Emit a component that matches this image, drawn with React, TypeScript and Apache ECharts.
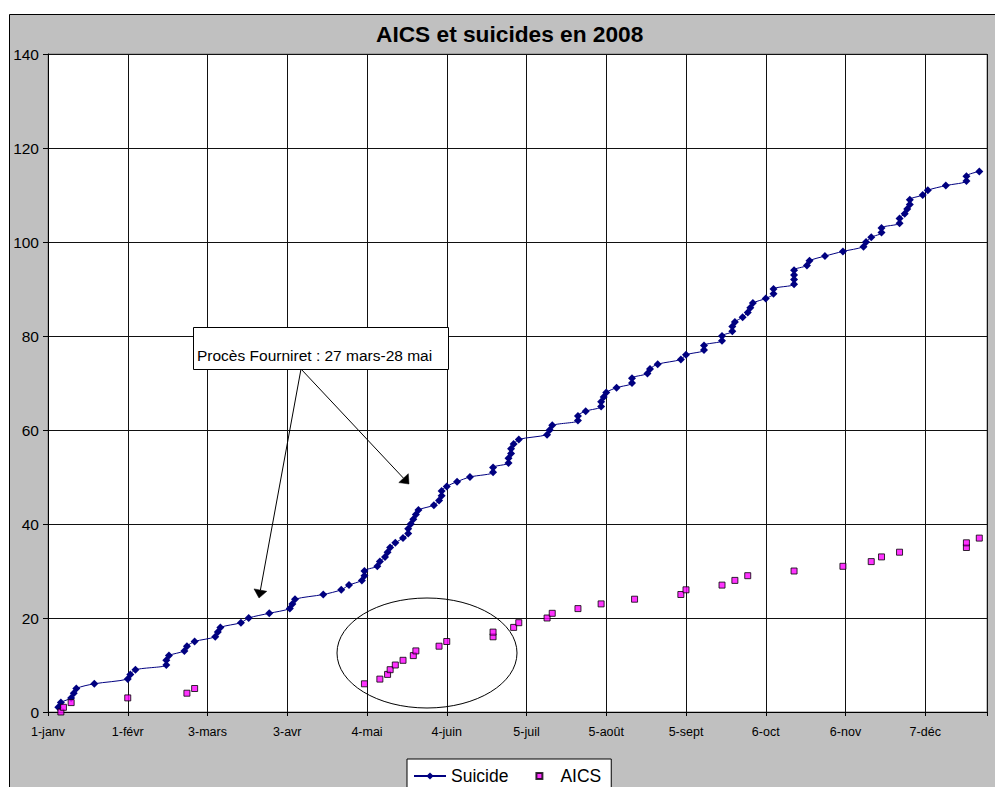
import React, { useEffect, useRef } from 'react';
import * as echarts from 'echarts';

const FONT = '"Liberation Sans", Arial, Helvetica, sans-serif';

// x axis: day number counted from 1 January 2008; ticks every 31 days
const xTickLabels = ['1-janv', '1-févr', '3-mars', '3-avr', '4-mai', '4-juin', '5-juil', '5-août', '5-sept', '6-oct', '6-nov', '7-déc'];

// Suicide (cumulative) : day of year and running total
const suicideDays = [4, 5, 9, 10, 11, 18, 31, 32, 34, 46, 46, 47, 53, 54, 57, 65, 66, 67, 75, 78, 86, 94, 95, 96, 107, 114, 117, 122, 123, 123,
  128, 129, 131, 132, 133, 135, 138, 140, 140, 141, 142, 143, 144, 150, 152, 153, 153, 155, 159, 164, 173, 173, 179, 179, 180, 180, 181, 183,
  194, 195, 196, 206, 206, 209, 215, 215, 216, 217, 221, 227, 227, 233, 234, 237, 246, 248, 255, 255, 262, 262, 266, 266, 267, 270, 272, 273, 274,
  279, 282, 282, 290, 290, 290, 290, 295, 296, 302, 309, 317, 318, 320, 324, 324, 331, 331, 333, 334, 335, 335, 340, 342, 349, 357, 357, 362];
const suicideTotals = [1, 2, 3, 4, 5, 6, 7, 8, 9, 10, 11, 12, 13, 14, 15, 16, 17, 18, 19, 20, 21, 22, 23, 24, 25, 26, 27, 28, 29, 30,
  31, 32, 33, 34, 35, 36, 37, 38, 39, 40, 41, 42, 43, 44, 45, 46, 47, 48, 49, 50, 51, 52, 53, 54, 55, 56, 57, 58,
  59, 60, 61, 62, 63, 64, 65, 66, 67, 68, 69, 70, 71, 72, 73, 74, 75, 76, 77, 78, 79, 80, 81, 82, 83, 84, 85, 86, 87,
  88, 89, 90, 91, 92, 93, 94, 95, 96, 97, 98, 99, 100, 101, 102, 103, 104, 105, 106, 107, 108, 109, 110, 111, 112, 113, 114, 115];

// AICS (cumulative) : day of year and running total
const aicsDays = [5, 6, 9, 31, 54, 57, 123, 129, 132, 133, 135, 138, 142, 143, 152, 155, 173, 173, 181, 183, 194, 196, 206, 215, 228,
  246, 248, 262, 267, 272, 290, 309, 320, 324, 331, 357, 357, 362];
const aicsTotals = [0, 1, 2, 3, 4, 5, 6, 7, 8, 9, 10, 11, 12, 13, 14, 15, 16, 17, 18, 19, 20, 21, 22, 23, 24,
  25, 26, 27, 28, 29, 30, 31, 32, 33, 34, 35, 36, 37];

const titleText = 'AICS et suicides en 2008';
const noteText = 'Procès Fourniret : 27 mars-28 mai';

export default function App() {
  const ref = useRef<HTMLDivElement>(null);

  useEffect(() => {
    const chart = echarts.init(ref.current!, null, { renderer: 'svg' });
    const suicideData = suicideDays.map((d, i) => [d, suicideTotals[i]]);
    const aicsData = aicsDays.map((d, i) => [d, aicsTotals[i]]);

    chart.setOption({
      animation: false,
      backgroundColor: '#ffffff',
      title: {
        text: titleText,
        left: 376,
        top: 22,
        padding: 0,
        textStyle: { fontFamily: FONT, fontSize: 22.7, fontWeight: 'bold', color: '#000' },
      },
      legend: {
        left: 407,
        top: 759,
        padding: [7, 10, 7, 6],
        backgroundColor: '#ffffff',
        borderColor: '#000',
        borderWidth: 1,
        borderRadius: 0,
        itemWidth: 32,
        itemHeight: 9,
        itemGap: 14,
        textStyle: { fontFamily: FONT, fontSize: 17.5, color: '#000', lineHeight: 20 },
        data: [
          { name: 'Suicide' },
          { name: 'AICS', icon: 'path://M0,0M32,9M13,1.5H19V7.5H13Z' },
        ],
      },
      grid: {
        left: 48,
        top: 54,
        right: 8,
        bottom: 75,
        show: true,
        backgroundColor: '#ffffff',
        borderColor: '#808080',
        borderWidth: 1,
      },
      xAxis: {
        type: 'value',
        min: 0,
        max: 365,
        interval: 31,
        axisLine: { show: true, onZero: false, lineStyle: { color: '#000', width: 1 } },
        axisTick: { show: true, length: 4, lineStyle: { color: '#000' } },
        axisLabel: {
          margin: 13,
          fontFamily: FONT,
          fontSize: 12.5,
          color: '#000',
          formatter: (v: number) => {
            const i = v / 31;
            return Number.isInteger(i) && i < xTickLabels.length ? xTickLabels[i] : '';
          },
        },
        splitLine: { show: true, lineStyle: { color: '#111', width: 1 } },
      },
      yAxis: {
        type: 'value',
        min: 0,
        max: 140,
        interval: 20,
        axisLine: { show: true, lineStyle: { color: '#000', width: 1 } },
        axisTick: { show: true, length: 5, lineStyle: { color: '#000' } },
        axisLabel: { margin: 9, fontFamily: FONT, fontSize: 15.5, color: '#000' },
        splitLine: { show: true, lineStyle: { color: '#111', width: 1 } },
      },
      series: [
        {
          name: 'Suicide',
          type: 'line',
          data: suicideData,
          smooth: 0.3,
          symbol: 'diamond',
          symbolSize: 8,
          showAllSymbol: true,
          itemStyle: { color: '#000080' },
          lineStyle: { color: '#000080', width: 1 },
          z: 3,
        },
        {
          name: 'AICS',
          type: 'scatter',
          data: aicsData,
          symbol: 'rect',
          symbolSize: 6,
          itemStyle: { color: '#FF00FF', borderColor: '#000', borderWidth: 1 },
          z: 4,
        },
      ],
      graphic: [
        {
          type: 'rect',
          z: -10,
          silent: true,
          shape: { x: 9.5, y: 14.5, width: 1000, height: 800 },
          style: { fill: '#C0C0C0', stroke: '#000', lineWidth: 1 },
        },
        {
          type: 'ellipse',
          z: 100,
          silent: true,
          shape: { cx: 427, cy: 653, rx: 90, ry: 55 },
          style: { fill: 'none', stroke: '#000', lineWidth: 1 },
        },
        {
          type: 'line',
          z: 100,
          silent: true,
          shape: { x1: 301, y1: 369, x2: 260.4, y2: 590.1 },
          style: { stroke: '#000', lineWidth: 1 },
        },
        {
          type: 'polygon',
          z: 100,
          silent: true,
          shape: { points: [[259, 598], [266.8, 591.3], [254.0, 588.9]] },
          style: { fill: '#000', stroke: '#000', lineWidth: 0.5 },
        },
        {
          type: 'line',
          z: 100,
          silent: true,
          shape: { x1: 301, y1: 369, x2: 403.5, y2: 478.2 },
          style: { stroke: '#000', lineWidth: 1 },
        },
        {
          type: 'polygon',
          z: 100,
          silent: true,
          shape: { points: [[409, 484], [408.3, 473.7], [398.8, 482.6]] },
          style: { fill: '#000', stroke: '#000', lineWidth: 0.5 },
        },
        {
          type: 'rect',
          z: 101,
          silent: true,
          shape: { x: 193.5, y: 327.5, width: 255, height: 42 },
          style: { fill: '#ffffff', stroke: '#000', lineWidth: 1 },
        },
        {
          type: 'text',
          z: 102,
          silent: true,
          x: 197,
          y: 355,
          style: {
            text: noteText,
            fontFamily: FONT,
            fontSize: 15.5,
            fill: '#000',
            align: 'left',
            verticalAlign: 'middle',
          },
        },
      ],
    });

    return () => chart.dispose();
  }, []);

  return (
    <div
      ref={ref}
      style={{ position: 'fixed', left: 0, top: 0, width: 995, height: 787 }}
    />
  );
}
